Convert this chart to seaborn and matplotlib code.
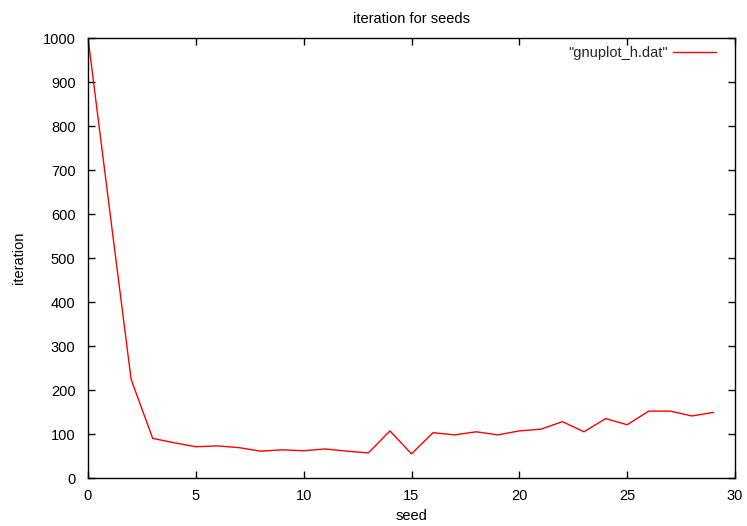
import numpy as np
import pandas as pd
import matplotlib
matplotlib.use('Agg')
import matplotlib.pyplot as plt
import seaborn as sns

# данные
seed = list(range(30))
iteration = [1000, 610, 224, 90, 80, 71, 73, 69, 61, 64,
             62, 66, 61, 57, 107, 55, 103, 98, 105, 98,
             107, 111, 128, 105, 135, 121, 152, 152, 141, 149]

df = pd.DataFrame({'seed': seed, 'iteration': iteration})

sns.set_theme(style='white')
plt.rcParams['font.family'] = ['Liberation Sans', 'DejaVu Sans']
FS = 10.5

fig = plt.figure(figsize=(7.47, 5.26), dpi=100)
ax = fig.add_axes([88 / 747, 1 - 478 / 526, (735 - 88) / 747, (478 - 38) / 526])

sns.lineplot(data=df, x='seed', y='iteration', color='red', linewidth=1,
             label='"gnuplot_h.dat"', ax=ax)

ax.set_xlim(0, 30)
ax.set_ylim(0, 1000)
ax.set_xticks(range(0, 31, 5))
ax.set_yticks(range(0, 1001, 100))
ax.tick_params(direction='in', length=5, width=1, color='black',
               top=True, right=True, bottom=True, left=True,
               labelsize=FS, labelcolor='black')
ax.tick_params(axis='y', pad=9)
ax.tick_params(axis='x', pad=8)
for s in ax.spines.values():
    s.set_color('black')
    s.set_linewidth(1)

ax.set_xlabel('seed', fontsize=FS, color='black', labelpad=4)
ax.set_ylabel('iteration', fontsize=FS, color='black', labelpad=12)
ax.set_title('iteration for seeds', fontsize=FS, color='black', pad=11)

# легенда как в gnuplot: текст слева, линия справа, без рамки
leg = ax.legend(loc='upper right', bbox_to_anchor=(0.986, 1.0045),
                frameon=False, fontsize=FS, markerfirst=False,
                handlelength=2.9, handletextpad=0.4, borderaxespad=0.3,
                borderpad=0.4)

fig.savefig('out.png', dpi=100)
